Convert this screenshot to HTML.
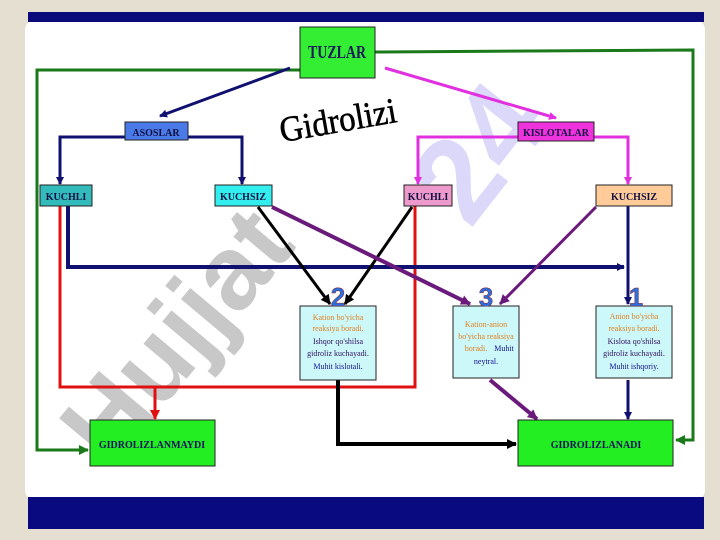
<!DOCTYPE html>
<html><head><meta charset="utf-8"><style>
html,body{margin:0;padding:0;width:720px;height:540px;overflow:hidden;background:#e4dfd0;}
svg{display:block}
</style></head><body>
<svg width="720" height="540" viewBox="0 0 720 540" xmlns="http://www.w3.org/2000/svg">
<defs>
<marker id="aN" markerWidth="8" markerHeight="8" refX="7" refY="4" orient="auto" markerUnits="userSpaceOnUse"><path d="M0,0 L8,4 L0,8 z" fill="#101070"/></marker>
<marker id="aM" markerWidth="8" markerHeight="8" refX="7" refY="4" orient="auto" markerUnits="userSpaceOnUse"><path d="M0,0 L8,4 L0,8 z" fill="#e030e0"/></marker>
<marker id="aK" markerWidth="10" markerHeight="10" refX="9" refY="5" orient="auto" markerUnits="userSpaceOnUse"><path d="M0,0 L10,5 L0,10 z" fill="#000"/></marker>
<marker id="aP" markerWidth="10" markerHeight="10" refX="9" refY="5" orient="auto" markerUnits="userSpaceOnUse"><path d="M0,0 L10,5 L0,10 z" fill="#6a1a7a"/></marker>
<marker id="aR" markerWidth="10" markerHeight="10" refX="9" refY="5" orient="auto" markerUnits="userSpaceOnUse"><path d="M0,0 L10,5 L0,10 z" fill="#e01010"/></marker>
<marker id="aG" markerWidth="10" markerHeight="10" refX="9" refY="5" orient="auto" markerUnits="userSpaceOnUse"><path d="M0,0 L10,5 L0,10 z" fill="#1a7a1a"/></marker>
</defs>
<rect x="25" y="20" width="680" height="480" rx="10" fill="#fff"/>
<rect x="28" y="12" width="676" height="10" fill="#0a0a7a"/>
<rect x="28" y="497" width="676" height="32" fill="#0a0a80"/>

<!-- watermark -->
<g>
<text x="0" y="0" transform="translate(110,470) rotate(-50)" font-family="Liberation Sans,sans-serif" font-weight="bold" font-size="105" fill="#c8c8c8">Hujjat</text>
<text x="0" y="0" transform="translate(470,230) rotate(-52)" font-family="Liberation Sans,sans-serif" font-weight="bold" font-size="120" fill="#dcd8fa">24</text>
</g>

<!-- green outer -->
<polyline points="300,70 37,70 37,450 88,450" fill="none" stroke="#1a7a1a" stroke-width="3" marker-end="url(#aG)"/>
<polyline points="375,52 693,50 693,440 676,440" fill="none" stroke="#1a7a1a" stroke-width="3" marker-end="url(#aG)"/>

<line x1="290" y1="68" x2="160" y2="116" stroke="#101070" stroke-width="3" marker-end="url(#aN)"/>
<line x1="385" y1="68" x2="556" y2="118" stroke="#e030e0" stroke-width="3" marker-end="url(#aM)"/>

<polyline points="125,137 60,137 60,184" fill="none" stroke="#101070" stroke-width="3" marker-end="url(#aN)"/>
<polyline points="188,137 242,137 242,184" fill="none" stroke="#101070" stroke-width="3" marker-end="url(#aN)"/>
<polyline points="518,137 418,137 418,184" fill="none" stroke="#e030e0" stroke-width="3" marker-end="url(#aM)"/>
<polyline points="594,137 628,137 628,184" fill="none" stroke="#e030e0" stroke-width="3" marker-end="url(#aM)"/>

<polyline points="60,206 60,387 415,387 415,206" fill="none" stroke="#e01010" stroke-width="3"/>
<line x1="155" y1="387" x2="155" y2="419" stroke="#e01010" stroke-width="3" marker-end="url(#aR)"/>

<polyline points="68,206 68,267 624,267" fill="none" stroke="#101070" stroke-width="4" marker-end="url(#aN)"/>
<line x1="628" y1="206" x2="628" y2="304" stroke="#101070" stroke-width="3" marker-end="url(#aN)"/>

<line x1="258" y1="207" x2="330" y2="304" stroke="#000" stroke-width="3" marker-end="url(#aK)"/>
<line x1="412" y1="207" x2="345" y2="304" stroke="#000" stroke-width="3" marker-end="url(#aK)"/>
<line x1="272" y1="207" x2="470" y2="304" stroke="#6a1a7a" stroke-width="4" marker-end="url(#aP)"/>
<line x1="596" y1="207" x2="500" y2="304" stroke="#6a1a7a" stroke-width="3" marker-end="url(#aP)"/>

<polyline points="338,380 338,444 516,444" fill="none" stroke="#000" stroke-width="4" marker-end="url(#aK)"/>
<line x1="490" y1="380" x2="537" y2="419" stroke="#6a1a7a" stroke-width="4" marker-end="url(#aP)"/>
<line x1="628" y1="380" x2="628" y2="419" stroke="#101070" stroke-width="3" marker-end="url(#aN)"/>

<g font-family="Liberation Serif,serif" font-weight="bold" text-anchor="middle">
<rect x="300" y="27" width="75" height="51" fill="#33ee33" stroke="#222" stroke-width="1"/>
<text x="337" y="58" font-size="18" fill="#1a1a5a" textLength="58" lengthAdjust="spacingAndGlyphs">TUZLAR</text>

<rect x="125" y="122" width="63" height="18" fill="#4a7ae8" stroke="#222"/>
<text x="156" y="136" font-size="10" fill="#101040">ASOSLAR</text>
<rect x="518" y="122" width="76" height="19" fill="#ee33dd" stroke="#222"/>
<text x="556" y="136" font-size="10" fill="#101040">KISLOTALAR</text>

<rect x="40" y="185" width="52" height="21" fill="#33bbbb" stroke="#222"/>
<text x="66" y="200" font-size="10" fill="#101040">KUCHLI</text>
<rect x="215" y="185" width="57" height="21" fill="#33eeee" stroke="#222"/>
<text x="243" y="200" font-size="10" fill="#101040">KUCHSIZ</text>
<rect x="404" y="185" width="48" height="21" fill="#ee99cc" stroke="#222"/>
<text x="428" y="200" font-size="10" fill="#101040">KUCHLI</text>
<rect x="596" y="185" width="76" height="21" fill="#ffcc99" stroke="#222"/>
<text x="634" y="200" font-size="10" fill="#101040">KUCHSIZ</text>

<rect x="300" y="306" width="76" height="74" fill="#ccf8fa" stroke="#222"/>
<rect x="453" y="306" width="66" height="72" fill="#ccf8fa" stroke="#222"/>
<rect x="596" y="306" width="76" height="72" fill="#ccf8fa" stroke="#222"/>

<g font-weight="normal" font-size="8">
<text x="338" y="320" fill="#e08020">Kation bo'yicha</text>
<text x="338" y="331" fill="#e08020">reaksiya boradi.</text>
<text x="338" y="344" fill="#301060">Ishqor qo'shilsa</text>
<text x="338" y="356" fill="#301060">gidroliz kuchayadi.</text>
<text x="338" y="369" fill="#101090">Muhit kislotali.</text>
<text x="486" y="327" fill="#e08020">Kation-anion</text>
<text x="486" y="339" fill="#e08020">bo'yicha reaksiya</text>
<text x="476" y="351" fill="#e08020">boradi.</text>
<text x="504" y="351" fill="#101090">Muhit</text>
<text x="486" y="364" fill="#101090">neytral.</text>
<text x="634" y="319" fill="#e08020">Anion bo'yicha</text>
<text x="634" y="331" fill="#e08020">reaksiya boradi.</text>
<text x="634" y="344" fill="#301060">Kislota qo'shilsa</text>
<text x="634" y="356" fill="#301060">gidroliz kuchayadi.</text>
<text x="634" y="369" fill="#101090">Muhit ishqoriy.</text>
</g>

<g font-family="Liberation Sans,sans-serif" font-size="26" fill="#2a6ee0" stroke="#902020" stroke-width="0.5">
<text x="338" y="306">2</text>
<text x="486" y="306">3</text>
<text x="636" y="306">1</text>
</g>

<rect x="90" y="420" width="125" height="46" fill="#22ee22" stroke="#222"/>
<text x="152" y="448" font-size="10" fill="#101060">GIDROLIZLANMAYDI</text>
<rect x="518" y="420" width="155" height="46" fill="#22ee22" stroke="#222"/>
<text x="596" y="448" font-size="10" fill="#101060">GIDROLIZLANADI</text>

<text x="0" y="0" transform="translate(340,132) rotate(-10)" font-size="36" font-weight="normal" fill="#000" stroke="#000" stroke-width="0.6" textLength="118" lengthAdjust="spacingAndGlyphs">Gidrolizi</text>
</g>
</svg>
</body></html>
